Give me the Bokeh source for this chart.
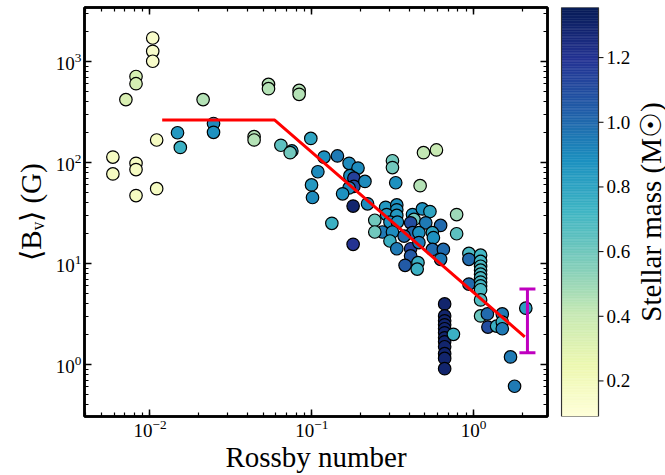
import numpy as np
from bokeh.plotting import figure
from bokeh.layouts import row
from bokeh.models import (Range1d, LogAxis, LogTicker, LinearColorMapper, ColumnDataSource)
from bokeh.core.properties import value
from bokeh.palettes import YlGnBu9
from bokeh.embed import file_html
from bokeh.resources import INLINE

# ---------------- data ----------------
ro = [0.0104, 0.0104, 0.0104, 0.0082, 0.0082, 0.0071, 0.0213, 0.0059, 0.0059, 0.0082,
      0.0082, 0.0082, 0.0110, 0.0110, 0.0148, 0.0154, 0.0247, 0.0247, 0.044, 0.044,
      0.054, 0.054, 0.0644, 0.0753, 0.0735, 0.0835, 0.0835, 0.0986, 0.119, 0.144,
      0.109, 0.170, 0.193, 0.172, 0.182, 0.182, 0.170, 0.213, 0.0996, 0.101,
      0.155, 0.180, 0.221, 0.133, 0.180, 0.315, 0.315, 0.330, 0.490, 0.589,
      0.467, 0.286, 0.335, 0.335, 0.290, 0.335, 0.245, 0.304, 0.338, 0.273,
      0.245, 0.315, 0.304, 0.335, 0.419, 0.428, 0.408, 0.482, 0.537, 0.506,
      0.625, 0.419, 0.459, 0.372, 0.556, 0.564, 0.408, 0.459, 0.556, 0.650,
      0.625, 0.408, 0.453, 0.377, 0.448, 0.785, 0.785, 0.935, 0.935, 0.935,
      1.104, 1.104, 1.104, 1.104, 1.104, 1.104, 1.104, 1.104, 1.104, 1.104, 1.104,
      1.216, 1.225, 1.387, 1.503, 1.503, 1.503, 1.69, 1.79, 2.10,
      0.662, 0.662, 0.662, 0.662, 0.662, 0.662, 0.662, 0.662, 0.662, 0.662, 0.662, 0.662,
      0.750]
bv = [1707, 1260, 1005, 710, 602, 419, 419, 113, 77, 98,
      85, 47, 167, 55, 197, 141, 243, 199, 180, 167,
      593, 538, 148, 130, 125, 517, 473, 173, 113, 116,
      81, 98, 88, 74, 70, 58, 56, 65, 60, 45,
      49, 37, 39, 25, 15.5, 104, 89, 63, 125, 133,
      59, 36, 38, 34, 30.5, 29.9, 26.8, 25.7, 25.7, 20.5,
      20.5, 20.5, 16.7, 14.0, 30.5, 27.3, 25.3, 34.7, 32.7, 25.3,
      23.8, 20.2, 20.2, 18.7, 20.2, 18.0, 14.0, 16.1, 13.8, 13.8,
      11.0, 11.9, 10.2, 9.6, 8.8, 30.5, 19.7, 12.6, 11.0, 6.26,
      12.1, 10.5, 9.4, 8.6, 7.85, 7.2, 6.55, 6.0, 5.5, 4.36, 3.03,
      3.17, 2.35, 2.40, 3.17, 2.63, 2.26, 1.19, 0.61, 3.61,
      3.98, 3.03, 2.71, 2.47, 2.26, 2.06, 1.84, 1.68, 1.50, 1.28, 1.15, 0.91,
      1.99]
mass = [0.15, 0.15, 0.15, 0.35, 0.35, 0.33, 0.45, 0.18, 0.18, 0.18,
        0.18, 0.18, 0.18, 0.18, 0.85, 0.75, 0.90, 0.88, 0.45, 0.45,
        0.45, 0.45, 0.65, 0.85, 0.60, 0.45, 0.45, 0.80, 0.88, 0.95,
        0.90, 0.90, 0.90, 0.90, 1.15, 1.10, 0.90, 0.90, 0.85, 0.90,
        0.88, 1.30, 0.90, 0.75, 1.20, 0.60, 0.60, 0.88, 0.42, 0.40,
        0.45, 0.85, 0.88, 0.88, 0.85, 0.85, 0.60, 0.88, 0.88, 0.95,
        0.60, 0.90, 0.75, 0.95, 0.88, 0.60, 1.10, 0.88, 0.80, 0.95,
        1.00, 1.00, 0.88, 1.00, 0.80, 0.88, 1.15, 0.95, 1.00, 1.00,
        0.95, 1.05, 0.75, 1.05, 0.75, 0.50, 0.65, 0.70, 1.00, 1.00,
        0.72, 0.72, 0.70, 0.70, 0.70, 0.70, 0.70, 0.72, 0.70, 0.68, 0.62,
        1.00, 1.10, 0.75, 0.95, 0.75, 0.95, 0.95, 0.95, 0.82,
        1.30, 1.30, 1.30, 1.30, 1.30, 1.30, 1.30, 1.30, 1.30, 1.30, 1.30, 1.30,
        0.75]

fit_ro = [0.0119, 0.059, 2.07]
fit_bv = [263, 263, 1.88]

err_ro = [2.15]
err_lo = [1.31]
err_hi = [5.6]

mass_ticks = [0.2, 0.4, 0.6, 0.8, 1.0, 1.2]
mass_tick_labels = ["0.2", "0.4", "0.6", "0.8", "1.0", "1.2"]
mass_low, mass_high = 0.09, 1.355

x_title = "Rossby number"
y_title = "⟨Bᵥ⟩ (G)"
c_title = "Stellar mass (M☉)"

# ---------------- styling ----------------
SERIF = "Liberation Serif"
TITLE_SIZE = "29px"
TICK_SIZE = "19px"

base = list(reversed(YlGnBu9))
def hex2rgb(h):
    return tuple(int(h[i:i + 2], 16) for i in (1, 3, 5))
rgb = np.array([hex2rgb(c) for c in base], dtype=float)
pos = np.linspace(0, 1, len(base))
t = np.linspace(0, 1, 256)
palette = ["#%02x%02x%02x" % tuple(int(round(np.interp(tt, pos, rgb[:, k]))) for k in range(3))
           for tt in t]
mapper = LinearColorMapper(palette=palette, low=mass_low, high=mass_high)

TOP, BOTTOM = 7, 57

p = figure(width=555, height=475, x_axis_type="log", y_axis_type="log",
           x_range=Range1d(0.00394, 2.86), y_range=Range1d(0.306, 3420),
           output_backend="svg", toolbar_location=None,
           min_border_left=84, min_border_right=8, min_border_top=TOP,
           min_border_bottom=BOTTOM)
p.grid.visible = False
p.outline_line_color = "black"
p.outline_line_width = 2.5
p.background_fill_color = "white"
p.border_fill_color = "white"

def style_axis(ax, labels=True):
    ax.ticker = LogTicker(num_minor_ticks=10)
    ax.axis_line_width = 2.5
    ax.axis_line_color = "black"
    ax.major_tick_in = 7
    ax.major_tick_out = 0
    ax.minor_tick_in = 4
    ax.minor_tick_out = 0
    ax.major_tick_line_width = 1.5
    ax.minor_tick_line_width = 1.2
    ax.major_tick_line_color = "black"
    ax.minor_tick_line_color = "black"
    ax.major_label_text_font = SERIF
    ax.major_label_text_color = "black"
    ax.axis_label_text_font = SERIF
    ax.axis_label_text_font_style = "normal"
    ax.axis_label_text_color = "black"
    ax.axis_label_text_font_size = TITLE_SIZE
    if labels:
        ax.major_label_text_font_size = TICK_SIZE
        ax.major_label_standoff = 3
    else:
        ax.major_label_text_font_size = "1px"
        ax.major_label_text_alpha = 0
        ax.major_label_standoff = 0

xa = p.xaxis[0]
ya = p.yaxis[0]
style_axis(xa)
style_axis(ya)
xa.axis_label = x_title
xa.axis_label_standoff = 1
ya.axis_label = y_title
ya.axis_label_standoff = 6

top_ax = LogAxis()
right_ax = LogAxis()
style_axis(top_ax, labels=False)
style_axis(right_ax, labels=False)
p.add_layout(top_ax, "above")
p.add_layout(right_ax, "right")

src = ColumnDataSource(dict(ro=ro, bv=bv, mass=mass))
p.scatter("ro", "bv", source=src, size=12.5, line_color="black", line_width=1.2,
          fill_color={"field": "mass", "transform": mapper})

p.line(fit_ro, fit_bv, line_color="red", line_width=3)

p.segment(x0=err_ro, y0=err_lo, x1=err_ro, y1=err_hi, line_color="#bf00bf", line_width=3)
p.scatter(err_ro + err_ro, err_lo + err_hi, marker="dash", size=16, line_color="#bf00bf",
          line_width=3)

# ---------------- colour bar as its own small figure ----------------
# x range is in pixels across the colour-bar panel
BAR_W, TICK_L = 37, 5
c = figure(width=110, height=475, x_range=Range1d(-1, 104),
           y_range=Range1d(mass_low, mass_high),
           x_axis_location=None, y_axis_location=None,
           output_backend="svg", toolbar_location=None,
           min_border_left=5, min_border_right=0, min_border_top=TOP,
           min_border_bottom=BOTTOM)
c.grid.visible = False
c.outline_line_color = None
c.border_fill_color = "white"
c.background_fill_color = "white"

edges = np.linspace(mass_low, mass_high, len(palette) + 1)
c.quad(left=0, right=BAR_W, bottom=edges[:-1], top=edges[1:], fill_color=palette,
       line_color=palette, line_width=0.5)
c.quad(left=[0], right=[BAR_W], bottom=[mass_low], top=[mass_high], fill_color=None,
       line_color="#333333", line_width=1.2)
c.segment(x0=[BAR_W] * len(mass_ticks), x1=[BAR_W + TICK_L] * len(mass_ticks),
          y0=mass_ticks, y1=mass_ticks, line_color="black", line_width=1)
c.text(x=[BAR_W + TICK_L + 3] * len(mass_ticks), y=mass_ticks, text=mass_tick_labels,
       text_font=value(SERIF), text_font_size=TICK_SIZE, text_color="black",
       text_align="left", text_baseline="middle")
c.text(x=[89], y=[(mass_low + mass_high) / 2], text=[c_title], angle=np.pi / 2,
       text_font=value(SERIF), text_font_size=TITLE_SIZE, text_color="black",
       text_align="center", text_baseline="middle")

layout = row(p, c)
open("out.html", "w").write(file_html(layout, INLINE))
